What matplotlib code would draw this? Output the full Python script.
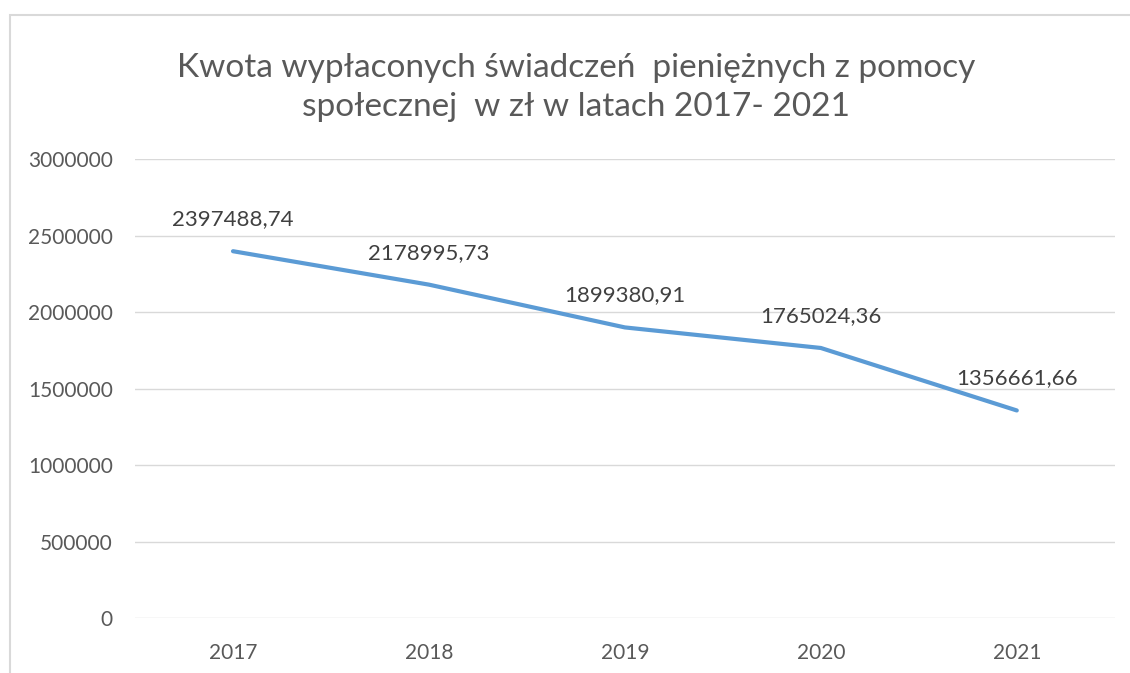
import matplotlib.pyplot as plt
from matplotlib.patches import Rectangle

years = ['2017', '2018', '2019', '2020', '2021']
amounts = [2397488.74, 2178995.73, 1899380.91, 1765024.36, 1356661.66]
labels = ['2397488,74', '2178995,73', '1899380,91', '1765024,36', '1356661,66']
yticks = [0, 500000, 1000000, 1500000, 2000000, 2500000, 3000000]

plt.rcParams['font.family'] = ['Lato', 'DejaVu Sans']
text_color = '#595959'

fig = plt.figure(figsize=(11.3, 6.73), dpi=100)
ax = fig.add_axes([0.1195, 0.0817, 0.867, 0.682])

x = list(range(len(years)))
ax.plot(x, amounts, color='#5B9BD5', linewidth=3, solid_capstyle='round')

# etykiety danych nad punktami
for xi, v, lab in zip(x, amounts, labels):
    ax.annotate(lab, (xi, v), xytext=(0, 23), textcoords='offset points',
                ha='center', va='center', fontsize=16, color='#404040')

ax.set_xlim(-0.5, 4.5)
ax.set_ylim(0, 3000000)
ax.set_yticks(yticks)
ax.set_yticklabels([str(t) for t in yticks])
ax.set_xticks(x)
ax.set_xticklabels(years)
ax.tick_params(axis='both', length=0, labelsize=15, labelcolor=text_color)
ax.tick_params(axis='y', pad=16)
ax.tick_params(axis='x', pad=18)
ax.grid(axis='y', color='#D9D9D9', linewidth=1)
ax.set_axisbelow(True)
for s in ax.spines.values():
    s.set_visible(False)

fig.text(0.51, 0.87, 'Kwota wypłaconych świadczeń  pieniężnych z pomocy\nspołecznej  w zł w latach 2017- 2021',
         ha='center', va='center', fontsize=24, color=text_color, linespacing=1.38)

# ramka wykresu (prawa i dolna krawędź poza obrazem)
fig.patches.append(Rectangle((10 / 1130, -0.1), 1.2, (673 - 15) / 673 + 0.1,
                             transform=fig.transFigure, fill=False,
                             edgecolor='#D9D9D9', linewidth=1.5))

fig.savefig('out.png', dpi=100)
